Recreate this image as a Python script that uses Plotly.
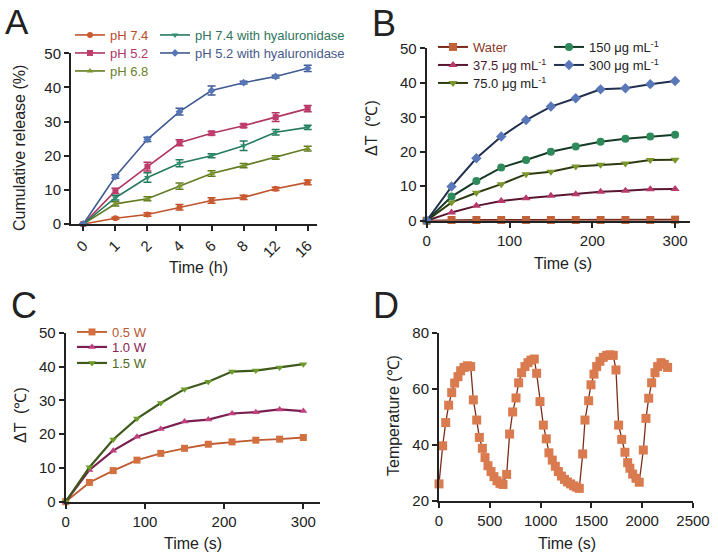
import plotly.graph_objects as go

W, H = 718, 559
FONT = "Liberation Sans, Arial, sans-serif"
INK = "#222222"

# ---- Panel A: cumulative release ----
a_time = ["0", "1", "2", "4", "6", "8", "12", "16"]
a_ph74 = [0, 1.7, 2.8, 4.9, 6.9, 7.8, 10.3, 12.2]
a_ph74_err = [0, 0.3, 0.5, 0.8, 0.8, 0.6, 0.5, 0.7]
a_ph52 = [0, 9.7, 16.8, 23.8, 26.6, 28.8, 31.3, 33.8]
a_ph52_err = [0, 0.8, 1.3, 0.9, 0.5, 0.5, 1.3, 0.9]
a_ph68 = [0, 5.9, 7.4, 11.1, 14.8, 17.1, 19.5, 22.1]
a_ph68_err = [0, 0.6, 0.6, 0.9, 0.8, 0.6, 0.5, 0.7]
a_ph74_hy = [0, 7.7, 13.6, 17.8, 20.0, 22.9, 26.9, 28.3]
a_ph74_hy_err = [0, 0.7, 1.4, 1.0, 0.6, 1.4, 0.8, 0.6]
a_ph52_hy = [0, 13.9, 24.8, 32.9, 39.1, 41.4, 43.2, 45.6]
a_ph52_hy_err = [0, 0.5, 0.6, 1.0, 1.3, 0.4, 0.4, 0.9]

# ---- Panel B: concentration dependent heating ----
b_time = [0, 30, 60, 90, 120, 150, 180, 210, 240, 270, 300]
b_water = [0, 0.2, 0.2, 0.2, 0.2, 0.2, 0.2, 0.2, 0.2, 0.2, 0.3]
b_c375 = [0, 2.4, 4.3, 5.7, 6.5, 7.2, 7.7, 8.4, 8.7, 9.1, 9.2]
b_c750 = [0, 5.3, 8.1, 10.6, 13.5, 14.2, 15.7, 16.2, 16.6, 17.6, 17.7]
b_c150 = [0, 7.0, 11.5, 15.4, 17.6, 20.0, 21.5, 22.9, 23.8, 24.4, 24.9]
b_c300 = [0, 9.9, 18.1, 24.4, 29.2, 33.1, 35.5, 38.1, 38.4, 39.6, 40.5]

# ---- Panel C: power dependent heating ----
c_time = [0, 30, 60, 90, 120, 150, 180, 210, 240, 270, 300]
c_w05 = [0, 5.7, 9.2, 12.3, 14.3, 15.8, 17.0, 17.7, 18.2, 18.5, 19.0]
c_w10 = [0, 9.4, 15.1, 19.2, 21.5, 23.7, 24.3, 26.1, 26.5, 27.3, 26.8]
c_w15 = [0, 10.2, 18.4, 24.6, 29.2, 33.3, 35.5, 38.5, 38.8, 39.7, 40.7]

# ---- Panel D: heating / cooling cycles ----
d_time = [0, 36, 66, 95, 125, 154, 187, 213, 246, 279, 312,
          338, 371, 397, 427, 453, 482, 512, 541, 571, 600, 630,
          666, 695, 725, 758, 784, 813, 846, 876, 905, 938,
          961, 994, 1027, 1056, 1082, 1115, 1145, 1175, 1205, 1235, 1265, 1295, 1325, 1355, 1381,
          1414, 1437, 1473, 1496, 1525, 1552, 1584, 1617, 1650, 1683, 1715,
          1742, 1768, 1798, 1830, 1857, 1879, 1906, 1939, 1971,
          2011, 2037, 2064, 2093, 2126, 2152, 2185, 2217, 2250]
d_temp = [26, 39.6, 47.9, 54.1, 58.6, 62.0, 64.3, 66.4, 67.6, 68.2, 67.9,
          56.0, 48.8, 42.6, 38.7, 35.4, 32.5, 30.4, 28.6, 27.1, 26.2, 25.8,
          29.4, 43.8, 51.7, 56.7, 62.1, 65.7, 67.9, 69.3, 70.2, 70.6,
          65.5, 55.4, 47.0, 42.1, 37.1, 34.5, 32.3, 30.4, 28.8, 27.6, 26.7, 26.0, 25.3, 24.8, 24.4,
          36.7, 48.8, 55.7, 61.4, 65.2, 67.9, 69.8, 71.2, 71.9, 72.1, 71.9,
          66.7, 47.0, 41.9, 37.3, 33.6, 31.6, 29.5, 28.0, 26.6,
          38.1, 49.4, 56.6, 62.1, 65.7, 67.9, 69.3, 68.7, 67.6]


def px(x):
    return x / W


def py(y):
    return 1 - y / H


fig = go.Figure()

# one legend per row so each row can sit where the reference has it
legend_specs = {}


def add_series(x, y, name, xa, ya, symbol, mcolor, lcolor, leg, lx, ly, tcolor,
               err=None, msize=6, lwidth=1.6, fsize=13):
    fig.add_trace(go.Scatter(
        x=x, y=y, name=name, mode="lines+markers",
        xaxis=xa, yaxis=ya, legend=leg, cliponaxis=False,
        line=dict(color=lcolor, width=lwidth),
        marker=dict(symbol=symbol, size=msize, color=mcolor,
                    line=dict(width=0)),
        error_y=(dict(type="data", array=err, color=lcolor,
                      thickness=1.5, width=4) if err is not None else None),
    ))
    legend_specs[leg] = dict(
        x=px(lx), y=py(ly), xanchor="left", yanchor="middle",
        bgcolor="rgba(0,0,0,0)", borderwidth=0,
        font=dict(family=FONT, size=fsize, color=tcolor),
        itemwidth=30,
    )


# Panel A
add_series(a_time, a_ph74, "pH 7.4", "x", "y", "circle", "#CC5A30", "#C0532C",
           "legend", 70, 35, "#B84C2A", a_ph74_err)
add_series(a_time, a_ph52, "pH 5.2", "x", "y", "square", "#C03C6E", "#B0365F",
           "legend2", 70, 53, "#B03565", a_ph52_err)
add_series(a_time, a_ph68, "pH 6.8", "x", "y", "triangle-up", "#7A962C", "#627C22",
           "legend3", 70, 71, "#6A7F28", a_ph68_err)
add_series(a_time, a_ph74_hy, "pH 7.4 with hyaluronidase", "x", "y", "triangle-down",
           "#2F9070", "#267A5E", "legend4", 155, 35, "#2E7560", a_ph74_hy_err)
add_series(a_time, a_ph52_hy, "pH 5.2 with hyaluronidase", "x", "y", "diamond",
           "#5577B8", "#405A92", "legend5", 155, 53, "#47598A", a_ph52_hy_err)

# Panel B
add_series(b_time, b_water, "Water", "x2", "y2", "square", "#C0623A", "#7A2A1A",
           "legend6", 433, 47, "#8A3A28", msize=8, lwidth=2)
add_series(b_time, b_c375, "37.5 μg mL<sup>-1</sup>", "x2", "y2", "triangle-up",
           "#B83A6C", "#5A1530", "legend7", 433, 65, "#4A1A2E", msize=8, lwidth=2)
add_series(b_time, b_c750, "75.0 μg mL<sup>-1</sup>", "x2", "y2", "triangle-down",
           "#7A962C", "#2E3A10", "legend8", 433, 83, INK, msize=8, lwidth=2)
add_series(b_time, b_c150, "150 μg mL<sup>-1</sup>", "x2", "y2", "circle",
           "#2E8A5A", "#153A25", "legend9", 549, 47, INK, msize=8, lwidth=2)
add_series(b_time, b_c300, "300 μg mL<sup>-1</sup>", "x2", "y2", "diamond",
           "#5A78B8", "#22304F", "legend10", 549, 65, INK, msize=8, lwidth=2)

# Panel C
add_series(c_time, c_w05, "0.5 W", "x3", "y3", "square", "#D4703F", "#C05A30",
           "legend11", 72, 332, "#B8562E", msize=7, lwidth=1.8)
add_series(c_time, c_w10, "1.0 W", "x3", "y3", "triangle-up", "#C04080", "#7A1F4F",
           "legend12", 72, 347, "#8A2456", msize=7, lwidth=2.2)
add_series(c_time, c_w15, "1.5 W", "x3", "y3", "triangle-down", "#6E9A2A", "#3E5A1A",
           "legend13", 72, 363, "#4E6A22", msize=7, lwidth=2.2)

# Panel D
fig.add_trace(go.Scatter(
    x=d_time, y=d_temp, mode="lines+markers", xaxis="x4", yaxis="y4",
    showlegend=False, cliponaxis=False,
    line=dict(color="#7A2E1A", width=1.3),
    marker=dict(symbol="square", size=9, color="#D97B4F"),
))

axis_common = dict(
    showline=True, linecolor=INK, linewidth=2, mirror=False,
    ticks="outside", ticklen=5, tickwidth=2, tickcolor=INK,
    showgrid=False, zeroline=False, automargin=False,
    tickfont=dict(family=FONT, size=15, color=INK),
)

layout_axes = dict(
    xaxis=dict(axis_common, domain=[px(71), px(317)], anchor="y", type="category",
               range=[-0.385, 7.29], tickangle=-45),
    yaxis=dict(axis_common, domain=[py(224), py(53.3)], anchor="x",
               range=[0, 50], tickvals=[0, 10, 20, 30, 40, 50]),
    xaxis2=dict(axis_common, domain=[px(426.7), px(690)], anchor="y2",
                range=[0, 318], tickvals=[0, 100, 200, 300]),
    yaxis2=dict(axis_common, domain=[py(220.7), py(48.3)], anchor="x2",
                range=[0, 50], tickvals=[0, 10, 20, 30, 40, 50]),
    xaxis3=dict(axis_common, domain=[px(65.7), px(320)], anchor="y3",
                range=[0, 321], tickvals=[0, 100, 200, 300]),
    yaxis3=dict(axis_common, domain=[py(501.7), py(332.7)], anchor="x3",
                range=[0, 50], tickvals=[0, 10, 20, 30, 40, 50]),
    xaxis4=dict(axis_common, domain=[px(439), px(693)], anchor="y4",
                range=[0, 2500], tickvals=[0, 500, 1000, 1500, 2000, 2500]),
    yaxis4=dict(axis_common, domain=[py(500.7), py(332.7)], anchor="x4",
                range=[20, 80], tickvals=[20, 40, 60, 80]),
)

annotations = []


def label(text, x, y, size=15, angle=0):
    annotations.append(dict(
        text=text, x=px(x), y=py(y), xref="paper", yref="paper",
        xanchor="center", yanchor="middle", showarrow=False, textangle=angle,
        font=dict(family=FONT, size=size, color=INK),
    ))


# panel letters
label("A", 17, 21, 35)
label("B", 384, 24, 36)
label("C", 24, 305, 36)
label("D", 386, 305, 36)

# axis titles
label("Cumulative release (%)", 20, 148, 16, -90)
label("Time (h)", 198, 267, 16)
label("ΔT  (℃)", 372, 128, 16, -90)
label("Time (s)", 563, 263, 16)
label("ΔT  (℃)", 20, 415, 16, -90)
label("Time (s)", 193, 543, 16)
label("Temperature (℃)", 393, 415, 16, -90)
label("Time (s)", 567, 543, 16)

fig.update_layout(
    width=W, height=H,
    margin=dict(l=0, r=0, t=0, b=0, autoexpand=False),
    paper_bgcolor="white", plot_bgcolor="white",
    font=dict(family=FONT, color=INK),
    annotations=annotations,
    **layout_axes,
    **legend_specs,
)

# drop the browser's default 8px body margin so the figure fills the window
fig.write_html("out.html", config={"displayModeBar": False},
               post_script="document.body.style.margin='0';")
